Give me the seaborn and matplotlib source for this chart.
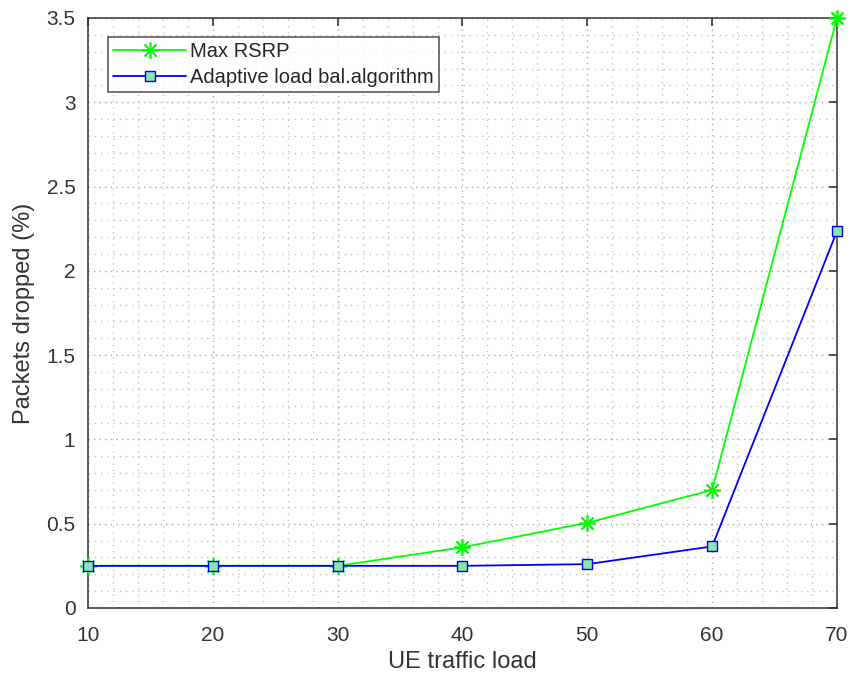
import matplotlib
matplotlib.use("Agg")
import matplotlib.pyplot as plt
import seaborn as sns
import pandas as pd
from matplotlib.ticker import MultipleLocator

load = [10, 20, 30, 40, 50, 60, 70]
max_rsrp = [0.25, 0.25, 0.25, 0.36, 0.505, 0.70, 3.5]
adaptive = [0.25, 0.25, 0.25, 0.25, 0.26, 0.365, 2.235]
series_names = ["Max RSRP", "Adaptive load bal.algorithm"]

df = pd.DataFrame({
    "load": load * 2,
    "val": max_rsrp + adaptive,
    "series": [series_names[0]] * len(load) + [series_names[1]] * len(load),
})

sns.set_style("white")
plt.rcParams['font.family'] = ['Liberation Sans', 'DejaVu Sans']

fig = plt.figure(figsize=(8.51, 6.79), dpi=100)
ax = fig.add_axes([0.1034, 0.1046, 0.8801, 0.8689])

sns.lineplot(data=df[df.series == series_names[0]], x="load", y="val", ax=ax,
             color="#00ff00", marker=(8, 2, 0), markersize=12, markeredgecolor="#00ff00",
             markerfacecolor="#00ff00", markeredgewidth=1.2, linewidth=1.3,
             label=series_names[0], clip_on=False, zorder=3)
sns.lineplot(data=df[df.series == series_names[1]], x="load", y="val", ax=ax,
             color="#0000ff", marker="s", markersize=6.5, markeredgecolor="#0000ff",
             markerfacecolor="#88e6a6", markeredgewidth=1.0, linewidth=1.3,
             label=series_names[1], clip_on=False, zorder=4)

ax.set_xlim(10, 70)
ax.set_ylim(0, 3.5)
ax.xaxis.set_major_locator(MultipleLocator(10))
ax.xaxis.set_minor_locator(MultipleLocator(2))
ax.yaxis.set_major_locator(MultipleLocator(0.5))
ax.yaxis.set_minor_locator(MultipleLocator(0.1))
ax.yaxis.set_major_formatter(matplotlib.ticker.FuncFormatter(lambda v, p: f"{v:g}"))

ax.grid(which="major", linestyle=(0, (1, 3)), color="#a8a8a8", linewidth=1.0)
ax.grid(which="minor", linestyle=(0, (1, 4)), color="#bdbdbd", linewidth=0.9)
ax.set_axisbelow(True)

ax.tick_params(which="major", direction="in", length=6, width=1.2, colors="#333333",
               labelsize=15, top=True, right=True, pad=9)
ax.tick_params(axis="x", which="major", pad=13)
ax.tick_params(which="minor", direction="in", length=0, top=True, right=True)
for lab in ax.get_xticklabels() + ax.get_yticklabels():
    lab.set_color("#333333")
for s in ax.spines.values():
    s.set_color("#333333")
    s.set_linewidth(1.1)
    s.set_visible(True)

ax.set_xlabel("UE traffic load", fontsize=17, color="#333333", labelpad=4)
ax.set_ylabel("Packets dropped (%)", fontsize=17, color="#333333", labelpad=8)

leg = ax.legend(loc="upper left", bbox_to_anchor=(0.027, 0.968), fontsize=14.5,
                frameon=True, fancybox=False, edgecolor="#222222",
                handlelength=3.6, borderpad=0.25, labelspacing=0.35, handletextpad=0.2,
                borderaxespad=0)
leg.get_frame().set_linewidth(1.1)

fig.savefig("out.png", dpi=100)
